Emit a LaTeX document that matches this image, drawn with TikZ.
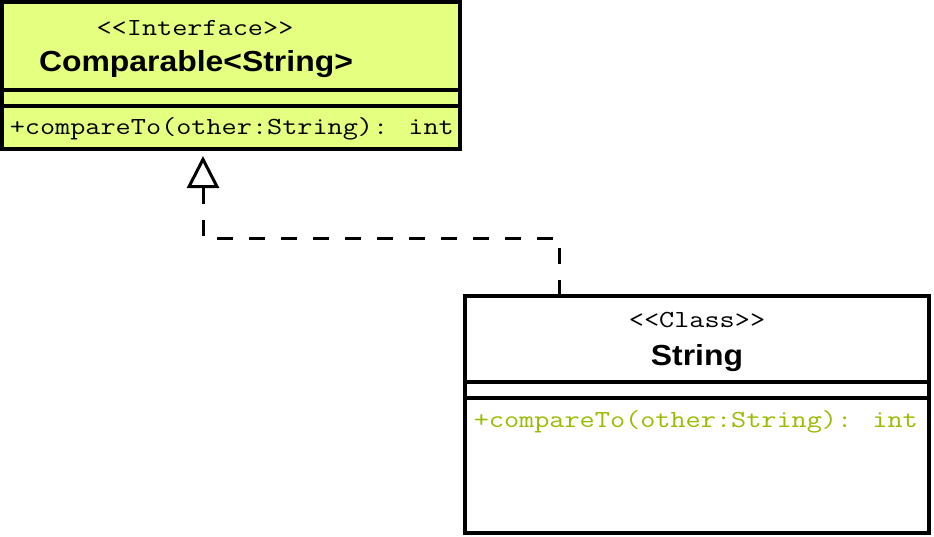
\documentclass[tikz,border=0pt]{standalone}
\usepackage{fontspec}
\usetikzlibrary{arrows.meta}
\newfontfamily\umlmono[FakeStretch=1.2]{Latin Modern Mono}
\newfontfamily\umlsans[FakeStretch=1.1]{Liberation Sans}
\definecolor{ifyellow}{RGB}{229,255,128}
\definecolor{opgreen}{RGB}{153,187,0}

\begin{document}
\begin{tikzpicture}[x=1pt,y=-1pt,line width=3.5pt,
    umlbox/.style={draw,rectangle,inner sep=0pt,outer sep=0pt,anchor=north west},
    stereo/.style={font=\umlmono\fontsize{24.5}{30}\selectfont,inner sep=0pt,anchor=base},
    classname/.style={font=\umlsans\bfseries\fontsize{29}{36}\selectfont,inner sep=0pt,anchor=base},
    oper/.style={font=\umlmono\fontsize{24.5}{30}\selectfont,inner sep=0pt,anchor=base west},
    realize/.style={line width=3pt,dash pattern=on 16pt off 16pt,shorten >=7pt,
        -{Triangle[open,length=32pt,width=32pt,fill=white]}}]
        \useasboundingbox (0,0) rectangle (934,536);
        
        \node[umlbox,fill=ifyellow,minimum width=458pt,minimum height=147pt] (IF) at (2,2) {};
        \node[umlbox,minimum width=464pt,minimum height=237pt] (ST) at (465,296) {};
        
        
        \draw ([yshift=-88pt]IF.north west) -- ([yshift=-88pt]IF.north east);
        \draw ([yshift=-104pt]IF.north west) -- ([yshift=-104pt]IF.north east);
        \draw ([yshift=-86pt]ST.north west) -- ([yshift=-86pt]ST.north east);
        \draw ([yshift=-102pt]ST.north west) -- ([yshift=-102pt]ST.north east);
        
        
        \node[stereo] (IFst) at (195,35) {<<Interface>>};
        \node[classname] (IFname) at (196,71) {Comparable<String>};
        \node[oper] (IFop) at (8,134) {+compareTo(other:String): int};
        
        \node[stereo] (STst) at (697,327) {<<Class>>};
        \node[classname] (STname) at (697,365) {String};
        \node[oper,text=opgreen] (STop) at (472,427) {+compareTo(other:String): int};
        
        
        \coordinate (K1) at (559,238);
        \coordinate (K2) at (203,238);
        
        \draw[realize] (ST.north -| K1) -- (K1) -- (K2) -- (IF.south -| K2);
    \end{tikzpicture}
\end{document}
